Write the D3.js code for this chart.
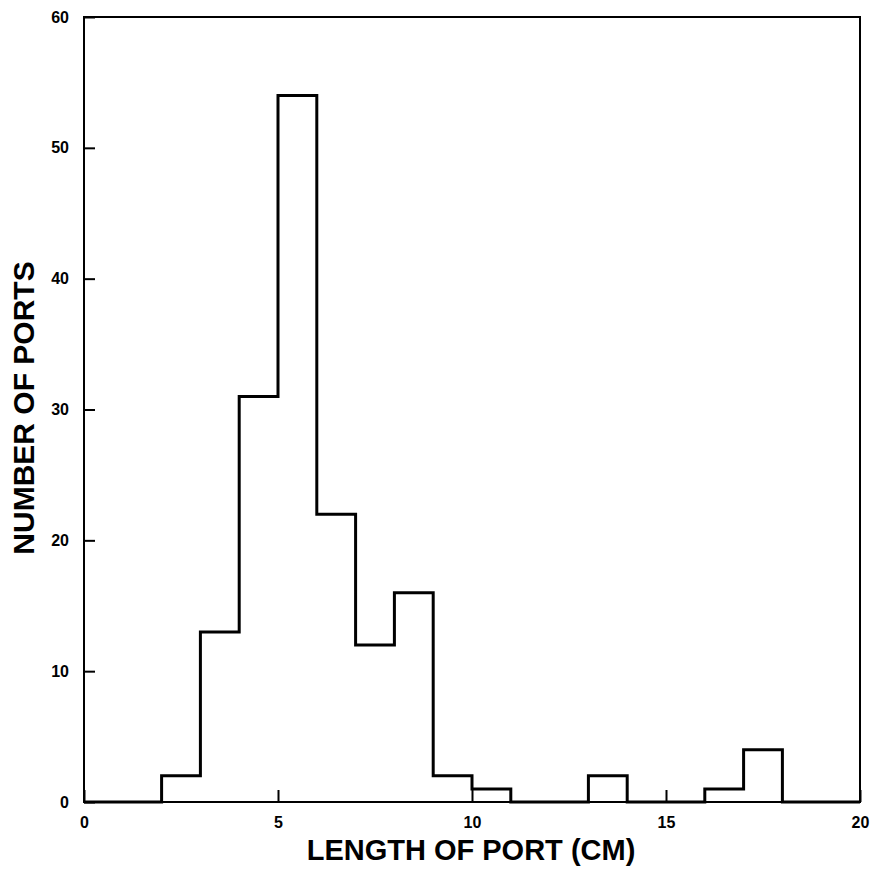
<!DOCTYPE html>
<html>
<head>
<meta charset="utf-8">
<script src="https://cdn.jsdelivr.net/npm/d3@7"></script>
<style>
  body { margin: 0; background: #fff; }
  text { font-family: "Liberation Sans", Arial, sans-serif; font-weight: bold; fill: #000; }
</style>
</head>
<body>
<svg id="canvas"></svg>
<script>
// histogram of port lengths, 1 cm bins from 0 to 20
var binStarts = [0, 1, 2, 3, 4, 5, 6, 7, 8, 9, 10, 11, 12, 13, 14, 15, 16, 17, 18, 19];
var portCounts = [0, 0, 2, 13, 31, 54, 22, 12, 16, 2, 1, 0, 0, 2, 0, 0, 1, 4, 0, 0];
var xTicks = [0, 5, 10, 15, 20];
var yTicks = [0, 10, 20, 30, 40, 50, 60];
var binWidth = 1;

document.addEventListener("DOMContentLoaded", () => {
  const width = 877, height = 878;
  const left = 84, right = 860, top = 17, bottom = 802;

  var svg = d3.select('#canvas')
    .attr('width', width)
    .attr('height', height);

  var x = d3.scaleLinear().domain([0, 20]).range([left, right]);
  var y = d3.scaleLinear().domain([0, 60]).range([bottom, top]);

  // frame
  svg.append('rect')
    .attr('x', left)
    .attr('y', top)
    .attr('width', right - left)
    .attr('height', bottom - top)
    .style('fill', 'none')
    .style('stroke', '#000')
    .style('stroke-width', 2);

  // inward ticks on the bottom and left
  var xAxis = d3.axisBottom(x).tickValues(xTicks).tickSize(-12).tickPadding(15).tickFormat(d3.format('d'));
  var gx = svg.append('g').attr('transform', `translate(0,${bottom})`).call(xAxis);
  var yAxis = d3.axisLeft(y).tickValues(yTicks).tickSize(-11).tickPadding(15).tickFormat(d3.format('d'));
  var gy = svg.append('g').attr('transform', `translate(${left},0)`).call(yAxis);

  [gx, gy].forEach(g => {
    g.select('.domain').remove();
    g.selectAll('line').style('stroke', '#000').style('stroke-width', 2);
    g.selectAll('text').style('font-size', '16px').style('font-family', '"Liberation Sans", Arial, sans-serif').style('font-weight', 'bold');
  });

  // step outline of the histogram
  var pts = [[0, 0]];
  binStarts.forEach((b, i) => {
    pts.push([b, portCounts[i]]);
    pts.push([b + binWidth, portCounts[i]]);
  });
  pts.push([20, 0]);

  var line = d3.line().x(d => x(d[0])).y(d => y(d[1]));
  svg.append('path')
    .attr('d', line(pts))
    .style('fill', 'none')
    .style('stroke', '#000')
    .style('stroke-width', 3)
    .style('stroke-linejoin', 'miter');

  svg.append('text')
    .attr('x', (left + right) / 2 - 1)
    .attr('y', 860)
    .attr('text-anchor', 'middle')
    .style('font-size', '29px')
    .text('LENGTH OF PORT (CM)');

  svg.append('text')
    .attr('transform', `translate(34,408) rotate(-90)`)
    .attr('text-anchor', 'middle')
    .style('font-size', '30px')
    .text('NUMBER OF PORTS');
});
</script>
</body>
</html>
